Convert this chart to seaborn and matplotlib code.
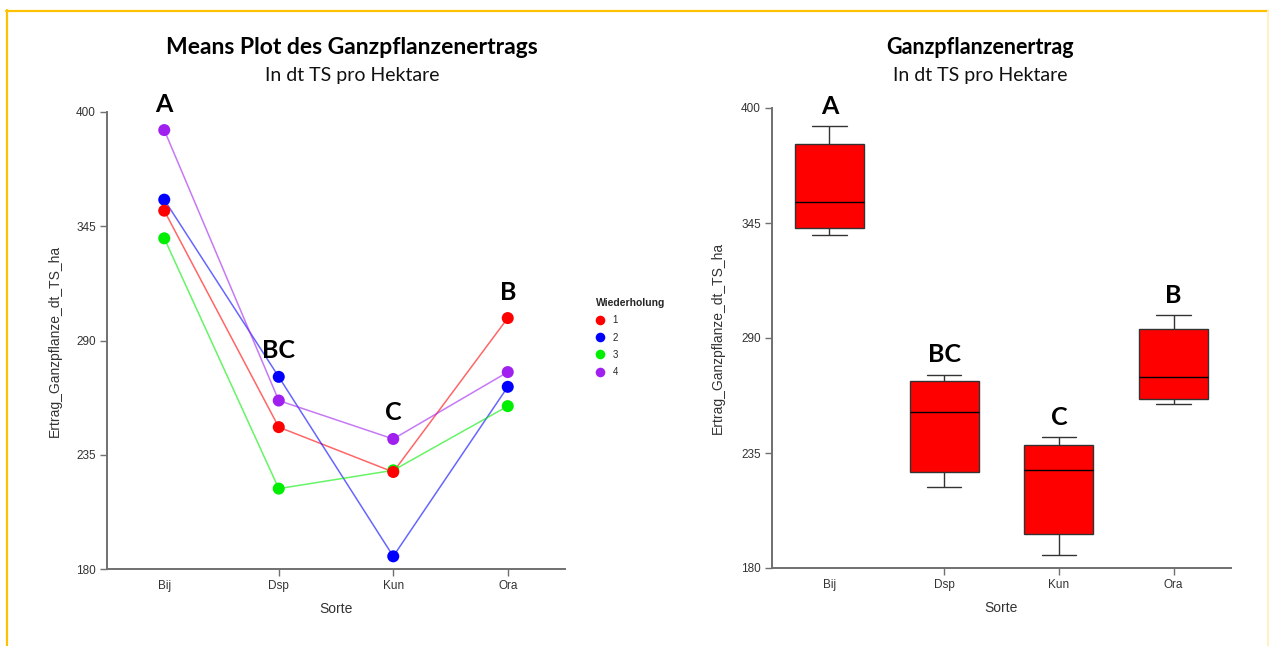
import numpy as np
import matplotlib
matplotlib.use('Agg')
import matplotlib as mpl
import matplotlib.pyplot as plt
from matplotlib.lines import Line2D
import pandas as pd
import seaborn as sns

# values (dt TS / ha)
sorten = ['Bij', 'Dsp', 'Kun', 'Ora']
wiederholungen = ['1', '2', '3', '4']
wdh_1 = [352.5, 248.3, 226.7, 300.8]
wdh_2 = [357.8, 272.5, 186.1, 267.7]
wdh_3 = [339.2, 218.7, 227.5, 258.4]
wdh_4 = [391.3, 261.1, 242.6, 274.8]
buchstaben = ['A', 'BC', 'C', 'B']
y_ticks = [180, 235, 290, 345, 400]

farben = ['#FF0000', '#0000FF', '#00EE00', '#A020F0']
val = 'Ertrag_Ganzpflanze_dt_TS_ha'

df = pd.DataFrame({
    'Sorte': pd.Categorical(sorten * 4, categories=sorten),
    'Wiederholung': np.repeat(wiederholungen, len(sorten)),
    val: wdh_1 + wdh_2 + wdh_3 + wdh_4,
})

# the original boxplot uses SPSS style hinges (quantile type 6)
_bxp_stats = mpl.cbook.boxplot_stats


def bxp_stats_type6(X, whis=1.5, bootstrap=None, labels=None, autorange=False):
    stats = _bxp_stats(X, whis=whis, bootstrap=bootstrap, labels=labels,
                       autorange=autorange)
    groups = X if isinstance(X, (list, tuple)) else [X]
    for st, x in zip(stats, groups):
        x = np.asarray(x, dtype=float)
        q1, med, q3 = np.percentile(x, [25, 50, 75], method='weibull')
        iqr = q3 - q1
        lo = x[x >= q1 - whis * iqr].min()
        hi = x[x <= q3 + whis * iqr].max()
        st.update(q1=q1, med=med, q3=q3, iqr=iqr, whislo=lo, whishi=hi,
                  fliers=x[(x < lo) | (x > hi)])
    return stats


mpl.cbook.boxplot_stats = bxp_stats_type6

sns.set_style('ticks')
plt.rcParams['font.family'] = ['Liberation Sans', 'DejaVu Sans']

W, H = 1271, 646
fig = plt.figure(figsize=(W / 100, H / 100), dpi=100)
ax1 = fig.add_axes([107 / W, 1 - 569 / H, 458 / W, 457 / H])
ax2 = fig.add_axes([772 / W, 1 - 568 / H, 459 / W, 460 / H])

# --- means plot ---
sns.lineplot(data=df, x='Sorte', y=val, hue='Wiederholung',
             hue_order=wiederholungen, palette=farben, linewidth=1.1,
             alpha=0.6, legend=False, sort=False, ax=ax1)
sns.scatterplot(data=df.iloc[::-1], x='Sorte', y=val, hue='Wiederholung',
                hue_order=wiederholungen, palette=farben, s=75,
                linewidth=0, ax=ax1, zorder=3)
ax1.set_xlim(-0.5, len(sorten) - 0.5)

handles, labels = ax1.get_legend_handles_labels()
ax1.legend(handles, labels, title='Wiederholung', loc='upper left',
           bbox_to_anchor=(596 / W, 1 - 298 / H), bbox_transform=fig.transFigure,
           frameon=False, fontsize=7, markerscale=0.8,
           title_fontproperties={'weight': 'bold', 'size': 7.5},
           alignment='left', handlelength=0.8, handletextpad=0.9,
           labelspacing=0.75, borderpad=0, borderaxespad=0)

# --- boxplot ---
sns.boxplot(data=df, x='Sorte', y=val, order=sorten, color='#FF0000',
            saturation=1, width=0.6, linecolor='#333333', linewidth=1,
            medianprops={'color': 'black'}, ax=ax2)
ax2.set_xlim(-0.5, len(sorten) - 0.5)

maxima = df.groupby('Sorte', observed=True)[val].max()
for ax, off in ((ax1, 12.5), (ax2, 9.5)):
    for i, s in enumerate(sorten):
        ax.text(i, maxima[s] + off, buchstaben[i], ha='center', va='center',
                fontsize=18, fontweight='bold', color='black',
                family=['Lato', 'DejaVu Sans'])

for ax, xlab in ((ax1, -0.098), (ax2, -0.102)):
    ax.set_ylim(180, 400)
    ax.set_yticks(y_ticks)
    ax.spines[['top', 'right']].set_visible(False)
    ax.spines['left'].set_bounds(180, 400)
    for sp in ('left', 'bottom'):
        ax.spines[sp].set_color('#707070')
        ax.spines[sp].set_linewidth(1.4)
    ax.tick_params(length=5, width=1, color='#707070', labelsize=8.5,
                   labelcolor='#333333', pad=3)
    ax.set_xlabel('Sorte', fontsize=10, color='#333333')
    ax.set_ylabel(val, fontsize=10, color='#333333')
    ax.xaxis.set_label_coords(0.5, -0.072)
    ax.yaxis.set_label_coords(xlab, 0.5)
    ax.xaxis.get_major_ticks()[0].tick1line.set_visible(False)

# titles
for cx, t, fs in ((352, 'Means Plot des Ganzpflanzenertrags', 16.5),
                  (980, 'Ganzpflanzenertrag', 15.5)):
    fig.text(cx / W, 1 - 48 / H, t, ha='center', va='center', fontsize=fs,
             fontweight='bold', color='black', family=['Lato', 'DejaVu Sans'])
    fig.text(cx / W, 1 - 76 / H, 'In dt TS pro Hektare', ha='center',
             va='center', fontsize=14, color='#111111',
             family=['Lato', 'DejaVu Sans'])

# frame of the slide
fig.add_artist(Line2D([6.5 / W, 6.5 / W], [0, 1 - 10 / H], color='#FFC000', lw=1.6))
fig.add_artist(Line2D([6 / W, 1268 / W], [1 - 10.5 / H] * 2, color='#FFC000', lw=1.6))
fig.add_artist(Line2D([1267.5 / W] * 2, [0, 1 - 11 / H], color='#FFF0C8', lw=1.5))

fig.savefig('out.png', dpi=100)
